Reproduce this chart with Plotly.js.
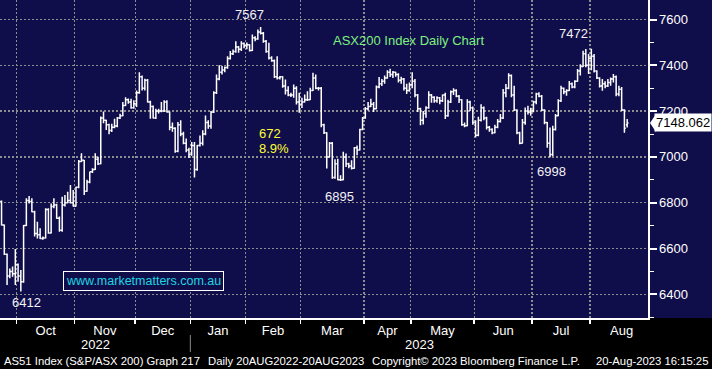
<!DOCTYPE html>
<html><head><meta charset="utf-8">
<script src="https://cdn.plot.ly/plotly-3.0.1.min.js"></script>
<style>html,body{margin:0;padding:0;background:#000;}#chart{width:712px;height:369px;}</style>
</head><body><div id="chart"></div>
<script>
// ASX200 (AS51) daily bars, last few Sept 2022 sessions to 18 Aug 2023
const openP = [6805,6703,6575,6480,6500,6490,6530,6480,6455,6700,6810,6805,6761,6665,6660,6644,6646,6770,6668,6783,
6790,6732,6680,6790,6800,6810,6800,6785,6868,6980,6985,6850,6890,6935,6945,6990,6970,7170,7160,7140,
7115,7130,7135,7170,7180,7225,7250,7240,7215,7232,7280,7350,7300,7335,7240,7220,7170,7200,7200,7200,
7240,7196,7130,7125,7025,7140,7100,7060,7030,7010,7050,6945,7050,7060,7100,7150,7135,7195,7280,7340,
7370,7380,7390,7430,7450,7460,7480,7470,7495,7485,7490,7465,7520,7515,7545,7540,7505,7460,7432,7420,
7350,7345,7350,7310,7290,7270,7270,7300,7240,7230,7240,7250,7250,7290,7345,7300,7300,7140,7105,7000,
7060,6910,6970,6900,6900,7000,6970,6960,6950,7040,7030,7120,7170,7210,7220,7230,7210,7305,7320,7330,
7345,7370,7360,7370,7360,7335,7340,7300,7290,7315,7330,7270,7210,7160,7190,7215,7270,7260,7245,7258,
7245,7270,7180,7240,7285,7290,7265,7250,7140,7136,7240,7215,7150,7095,7160,7215,7170,7130,7120,7105,
7130,7155,7170,7280,7300,7355,7270,7205,7105,7060,7150,7200,7195,7200,7240,7275,7265,7205,7150,7060,
7010,7120,7180,7245,7300,7285,7290,7320,7305,7330,7375,7395,7450,7400,7430,7440,7375,7345,7310,7320,
7310,7325,7340,7350,7275,7295,7205,7140];
const highP = [6810,6705,6578,6513,6521,6598,6535,6506,6703,6819,6829,6819,6765,6717,6688,6652,6776,6776,6797,6819,
6795,6740,6826,6834,6848,6877,6855,6870,6987,7016,6987,6900,6935,6950,7016,7001,7176,7198,7162,7145,
7145,7167,7174,7189,7240,7261,7255,7254,7247,7290,7370,7355,7341,7340,7245,7225,7210,7210,7240,7247,
7247,7198,7150,7130,7152,7160,7110,7080,7040,7065,7065,7052,7094,7116,7181,7160,7200,7287,7360,7400,
7397,7395,7440,7462,7469,7505,7484,7505,7500,7500,7492,7534,7527,7556,7567,7545,7510,7498,7440,7425,
7440,7353,7352,7338,7309,7280,7316,7309,7280,7258,7273,7287,7302,7367,7360,7305,7305,7145,7108,7065,
7065,6990,6992,6920,7022,7015,6975,6985,7043,7050,7123,7174,7218,7240,7254,7240,7312,7349,7340,7356,
7378,7385,7375,7372,7365,7350,7345,7320,7325,7370,7340,7275,7215,7200,7221,7287,7275,7265,7265,7262,
7272,7280,7250,7290,7300,7295,7270,7252,7150,7252,7245,7220,7160,7175,7230,7220,7175,7135,7125,7140,
7165,7187,7296,7318,7365,7360,7311,7208,7110,7165,7216,7223,7215,7245,7280,7282,7270,7208,7152,7128,
7136,7187,7252,7311,7303,7295,7332,7325,7335,7384,7405,7464,7471,7449,7472,7449,7378,7348,7340,7330,
7340,7347,7362,7355,7311,7305,7208,7165];
const lowP = [6700,6572,6441,6470,6477,6441,6455,6412,6450,6698,6797,6758,6652,6644,6642,6638,6644,6664,6665,6776,
6730,6673,6673,6783,6798,6797,6783,6783,6863,6978,6834,6848,6885,6930,6943,6965,6968,7147,7118,7099,
7109,7125,7130,7165,7178,7222,7232,7210,7210,7218,7276,7290,7290,7238,7167,7168,7165,7190,7195,7196,
7194,7116,7110,7018,7020,7090,7055,7020,6995,7005,6910,6940,7045,7050,7095,7123,7123,7192,7275,7335,
7360,7370,7385,7425,7445,7455,7455,7462,7475,7470,7460,7463,7505,7512,7534,7498,7455,7425,7415,7345,
7338,7338,7302,7273,7265,7262,7258,7229,7193,7214,7238,7244,7248,7288,7295,7290,7130,7100,6949,6998,
6905,6905,6898,6895,6898,6956,6950,6945,6948,7007,7028,7116,7167,7203,7218,7196,7208,7300,7310,7320,
7341,7349,7345,7350,7325,7320,7290,7275,7285,7300,7260,7196,7138,7142,7171,7210,7236,7236,7236,7230,
7240,7165,7175,7235,7270,7260,7235,7136,7130,7134,7200,7140,7085,7090,7155,7160,7120,7110,7099,7103,
7125,7150,7165,7260,7295,7260,7200,7099,7055,7058,7140,7185,7180,7195,7230,7260,7200,7143,7040,6998,
7004,7115,7178,7240,7274,7267,7288,7300,7300,7328,7355,7393,7391,7362,7378,7369,7340,7303,7289,7300,
7305,7311,7325,7265,7265,7200,7106,7128];
const closeP = [6703,6575,6480,6500,6490,6530,6480,6455,6700,6810,6805,6761,6665,6660,6644,6646,6770,6668,6783,6790,
6732,6680,6790,6800,6810,6800,6785,6868,6980,6985,6850,6890,6935,6945,6990,6970,7170,7160,7140,7115,
7130,7135,7170,7180,7225,7250,7240,7215,7232,7280,7350,7300,7335,7240,7220,7170,7200,7200,7200,7240,
7196,7130,7125,7025,7140,7100,7060,7030,7010,7050,6945,7050,7060,7100,7150,7135,7195,7280,7340,7370,
7380,7390,7430,7450,7460,7480,7470,7495,7485,7490,7465,7520,7515,7545,7540,7505,7460,7432,7420,7350,
7345,7350,7310,7290,7270,7270,7300,7240,7230,7240,7250,7250,7290,7345,7300,7300,7140,7105,7000,7060,
6910,6970,6900,6900,7000,6970,6960,6950,7040,7030,7120,7170,7210,7220,7230,7210,7305,7320,7330,7345,
7370,7360,7370,7360,7335,7340,7300,7290,7315,7330,7270,7210,7160,7190,7215,7270,7260,7245,7258,7245,
7270,7180,7240,7285,7290,7265,7250,7140,7136,7240,7215,7150,7095,7160,7215,7170,7130,7120,7105,7130,
7155,7170,7280,7300,7355,7270,7205,7105,7060,7150,7200,7195,7200,7240,7275,7265,7205,7150,7060,7010,
7120,7180,7245,7300,7285,7290,7320,7305,7330,7375,7395,7450,7400,7430,7440,7375,7345,7310,7320,7310,
7325,7340,7350,7275,7295,7205,7125,7148.062];

const leadingSepBars = 6;                       // sessions shown before 1 Oct 2022
const monthNames = ['Oct','Nov','Dec','Jan','Feb','Mar','Apr','May','Jun','Jul','Aug'];
const monthTradingDays = [21,22,20,20,20,23,17,23,21,21,23];
const yearLabels = ['2022','2023'];
const yTicks = [6400,6600,6800,7000,7200,7400,7600];
const peakLabels = ['7567','7472','6895','6998','6412'];
const moveLabels = ['672','8.9%'];
const chartTitle = 'ASX200 Index Daily Chart';
const siteText = 'www.marketmatters.com.au';
const footer = ['AS51 Index (S&P/ASX 200) Graph 217','Daily 20AUG2022-20AUG2023','Copyright\u00A9 2023 Bloomberg Finance L.P.','20-Aug-2023 16:15:25'];

const idx = closeP.map((_, i) => i);
const bounds = [leadingSepBars - 0.5];
monthTradingDays.forEach(d => bounds.push(bounds[bounds.length - 1] + d));
const mids = monthNames.map((_, k) => (bounds[k] + bounds[k + 1]) / 2);
const gridVals = bounds.slice(0, monthNames.length);
const xRange = [-0.56, 234.56];
const yRange = [6296.5, 7685.2];

const PW = 648, PH = 318;
const px = x => x / PW;
const py = y => (PH - y) / PH;
const NAVY = '#100d4b';
const FONT = 'Liberation Sans, Arial, sans-serif';

function lab(text, x, y, color, size, xanchor) {
  return {xref: 'paper', yref: 'paper', x: px(x), y: py(y), text: text, showarrow: false,
    xanchor: xanchor || 'center', yanchor: 'middle', font: {family: FONT, size: size || 13, color: color || '#f2f2f2'}};
}

const jan = bounds[3];
const janPx = (jan - xRange[0]) / (xRange[1] - xRange[0]) * PW;
const last = closeP[closeP.length - 1];
const lastY = (last - yRange[0]) / (yRange[1] - yRange[0]);

const annotations = [
  lab(peakLabels[0], 249, 15),
  lab(peakLabels[1], 573, 34),
  lab(peakLabels[2], 339, 196),
  lab(peakLabels[3], 551, 171),
  lab(peakLabels[4], 26, 302),
  lab(moveLabels[0], 257, 133, '#ffff30', 13, 'left'),
  lab(moveLabels[1], 257, 148.5, '#ffff30', 13, 'left'),
  lab(chartTitle, 408, 41, '#7ef07e', 13),
  Object.assign(lab(siteText, 143.5, 281, '#1ed6e0', 12.5), {bordercolor: '#ffffff', borderwidth: 1, borderpad: 2, bgcolor: NAVY}),
  lab(yearLabels[0], janPx / 2, 344, '#ffffff', 13),
  lab(yearLabels[1], (janPx + PW) / 2, 344, '#ffffff', 13),
  lab(footer[0], 2, 361, '#ffffff', 11.3, 'left'),
  lab(footer[1], 206, 361, '#ffffff', 11.3, 'left'),
  lab(footer[2], 370, 361, '#ffffff', 11.3, 'left'),
  lab(footer[3], 710, 361, '#ffffff', 11.3, 'right'),
  {xref: 'paper', yref: 'paper', x: px(683), y: lastY, text: last.toFixed(3), showarrow: false,
   xanchor: 'center', yanchor: 'middle', bgcolor: '#ffffff', borderpad: 1,
   font: {family: FONT, size: 13, color: '#000000'}}
];

const shapes = [
  {type: 'rect', xref: 'paper', yref: 'paper', x0: -0.05, x1: 1.2, y0: -0.3, y1: 0, fillcolor: '#000000', line: {width: 0}, layer: 'below'},
  {type: 'line', xref: 'paper', yref: 'paper', x0: px(janPx), x1: px(janPx), y0: py(335), y1: py(352), line: {color: '#8a8a8a', width: 1}},
  {type: 'path', xref: 'paper', yref: 'paper',
   path: 'M ' + px(650) + ',' + lastY + ' L ' + px(656) + ',' + (lastY + 9 / PH) + ' L ' + px(656) + ',' + (lastY - 9 / PH) + ' Z',
   fillcolor: '#ffffff', line: {width: 0}}
];

const trace = {
  type: 'ohlc', x: idx, open: openP, high: highP, low: lowP, close: closeP,
  increasing: {line: {color: '#ffffff', width: 1.5}},
  decreasing: {line: {color: '#ffffff', width: 1.5}},
  tickwidth: 0.5, hoverinfo: 'skip', showlegend: false
};

const layout = {
  width: 712, height: 369,
  margin: {l: 0, r: 64, t: 0, b: 51, pad: 0},
  paper_bgcolor: NAVY, plot_bgcolor: NAVY,
  showlegend: false,
  font: {family: FONT, color: '#ffffff', size: 13},
  xaxis: {
    range: xRange, rangeslider: {visible: false}, type: 'linear',
    tickmode: 'array', tickvals: mids, ticktext: monthNames, ticks: '',
    showgrid: false, zeroline: false,
    showline: true, linecolor: '#ffffff', linewidth: 1.5,
    tickfont: {family: FONT, size: 13, color: '#ffffff'},
    minor: {tickmode: 'array', tickvals: gridVals, ticks: 'outside', ticklen: 4, tickwidth: 1.5, tickcolor: '#ffffff',
            showgrid: true, gridcolor: '#8e8e8e', gridwidth: 1.3, griddash: '2px,2px'}
  },
  yaxis: {
    side: 'right', range: yRange, tickmode: 'array', tickvals: yTicks,
    ticks: 'outside', ticklen: 7, tickwidth: 2, tickcolor: '#ffffff',
    showgrid: true, gridcolor: '#8e8e8e', gridwidth: 1.3, griddash: '2px,2px', zeroline: false,
    showline: true, linecolor: '#ffffff', linewidth: 1.5,
    minor: {tickmode: 'linear', tick0: 6300, dtick: 100, ticks: 'outside', ticklen: 4, tickwidth: 1, tickcolor: '#ffffff', showgrid: false},
    tickfont: {family: FONT, size: 13, color: '#ffffff'}
  },
  annotations: annotations,
  shapes: shapes
};

Plotly.newPlot('chart', [trace], layout, {displayModeBar: false, staticPlot: true});
</script>
</body></html>
